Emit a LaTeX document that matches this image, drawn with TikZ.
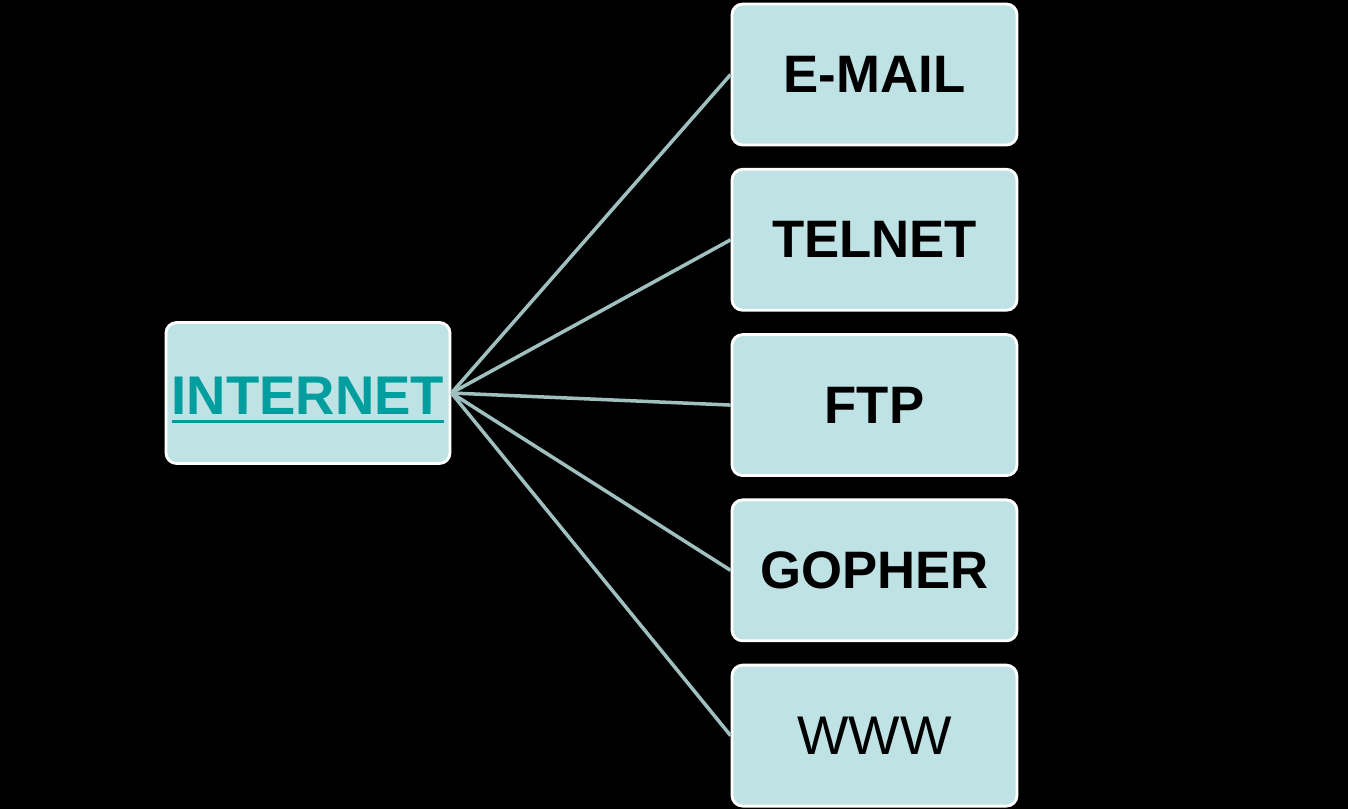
\documentclass[tikz,border=0pt]{standalone}
\usepackage{fontspec}
\setmainfont{Liberation Sans}
\usetikzlibrary{positioning}
\definecolor{boxfill}{HTML}{BFE2E4}
\definecolor{linkteal}{HTML}{009E9E}
\definecolor{spoke}{HTML}{A0C0C0}
\newcommand{\linktext}[1]{\leavevmode\vtop{\hbox{#1}\kern3pt\hrule height 1.8pt}}

\begin{document}
\begin{tikzpicture}[x=0.02cm, y=-0.02cm,
  svc/.style={draw=white, line width=1.6pt, rounded corners=6pt, fill=boxfill,
    minimum width=5.7cm, minimum height=2.82cm, align=center,
    font=\fontsize{30}{36}\selectfont\bfseries},
  hub/.style={svc, minimum width=5.68cm, text=linkteal, text height=27pt, text depth=2pt,
    font=\fontsize{31}{36}\selectfont\bfseries},
  spk/.style={draw=spoke, line width=2pt}]
\fill[black] (0,0) rectangle (1348,809);
\useasboundingbox (0,0) rectangle (1348,809);
\node[hub] (inet) at (308,393) {\linktext{INTERNET}};
\node[svc] (mail) at (874.5,74.5) {E-MAIL};
\node[svc, below=4.3mm of mail] (telnet) {TELNET};
\node[svc, below=4.3mm of telnet] (ftp) {FTP};
\node[svc, below=4.3mm of ftp] (gopher) {GOPHER};
\node[svc, below=4.3mm of gopher, font=\fontsize{31}{36}\selectfont] (www) {WWW};
\foreach \t in {mail,telnet,ftp,gopher,www}
  \draw[spk] (inet.east) -- (\t.west);
\end{tikzpicture}
\end{document}
